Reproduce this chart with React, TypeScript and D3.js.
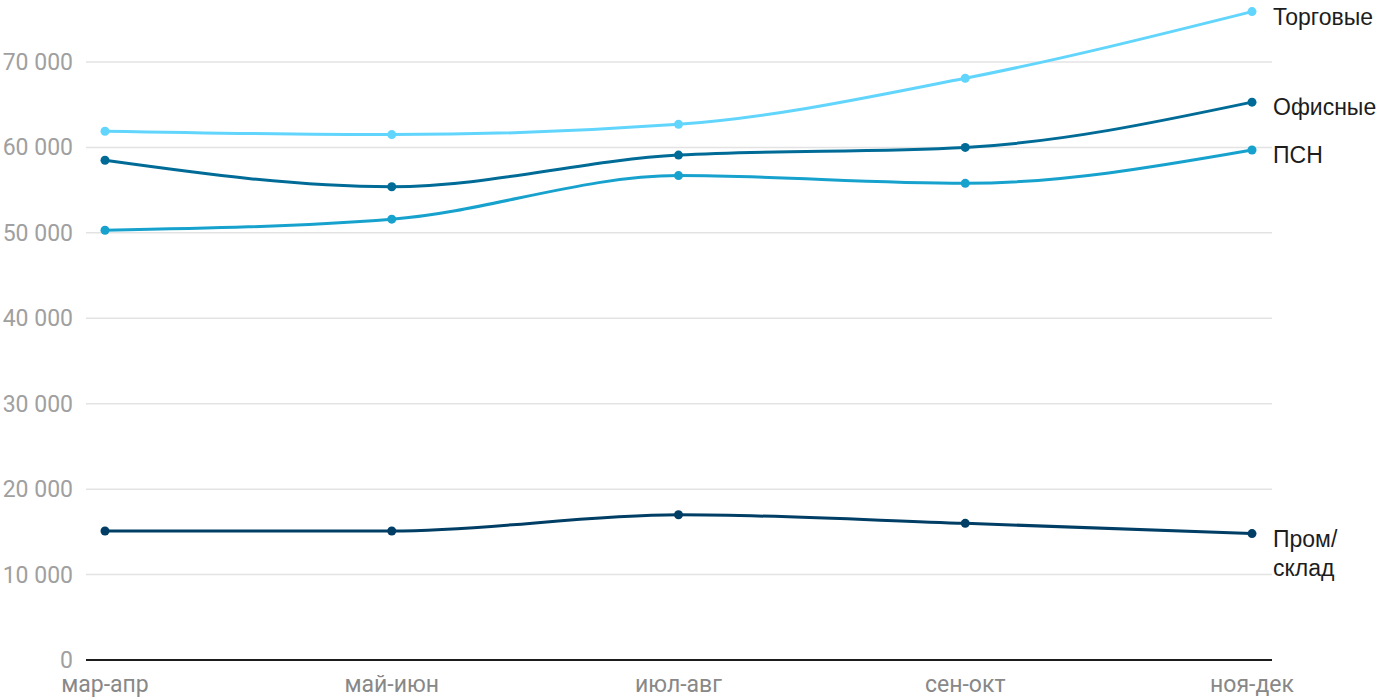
import React from "react";
import * as d3 from "d3";

const categories = ["мар-апр", "май-июн", "июл-авг", "сен-окт", "ноя-дек"];
const torgovye = [61900, 61500, 62700, 68100, 75900];
const ofisnye = [58500, 55400, 59100, 60000, 65300];
const psn = [50300, 51600, 56700, 55800, 59700];
const promSklad = [15100, 15100, 17000, 16000, 14800];
const yTicks = [0, 10000, 20000, 30000, 40000, 50000, 60000, 70000];

const series = [
  { name: ["Торговые"], values: torgovye, color: "#62d5fd" },
  { name: ["Офисные"], values: ofisnye, color: "#006b96" },
  { name: ["ПСН"], values: psn, color: "#17a2ce" },
  { name: ["Пром/", "склад"], values: promSklad, color: "#003e65" },
];

const W = 1400;
const H = 700;
const left = 86;
const right = 1272;

export default function App() {
  const x = d3.scalePoint<string>().domain(categories).range([105, 1252]);
  const y = d3.scaleLinear().domain([0, 70000]).range([660, 62]);
  const line = d3
    .line<number>()
    .x((_, i) => x(categories[i]) as number)
    .y((d) => y(d))
    .curve(d3.curveMonotoneX);
  const fmt = (v: number) => d3.format(",")(v).replace(/,/g, " ");
  return (
    <svg
      width={W}
      height={H}
      style={{ position: "absolute", left: 0, top: 0, fontFamily: "Roboto, sans-serif" }}
    >
      {yTicks.map((t) => (
        <g key={t}>
          {t > 0 && (
            <line x1={left} x2={right} y1={y(t)} y2={y(t)} stroke="#e3e3e3" strokeWidth={1.5} />
          )}
          <text x={73} y={y(t)} dy="0.35em" textAnchor="end" fontSize={23} fill="#a0a0a0">
            {t === 0 ? "0" : fmt(t)}
          </text>
        </g>
      ))}
      <line x1={left} x2={right} y1={y(0)} y2={y(0)} stroke="#1d1d1d" strokeWidth={2} />
      {categories.map((c) => (
        <text key={c} x={x(c)} y={692} textAnchor="middle" fontSize={23} fill="#888888">
          {c}
        </text>
      ))}
      {series.map((s) => (
        <g key={s.name.join("")}>
          <path d={line(s.values) || ""} fill="none" stroke={s.color} strokeWidth={3} />
          {s.values.map((v, i) => (
            <circle key={i} cx={x(categories[i])} cy={y(v)} r={4.5} fill={s.color} />
          ))}
          <text
            x={1273}
            y={y(s.values[s.values.length - 1])}
            fontSize={23}
            fill="#1d1d1d"
            fontFamily="'Liberation Sans', Arial, sans-serif"
          >
            {s.name.map((n, i) => (
              <tspan key={i} x={1273} dy={i === 0 ? "0.57em" : "1.26em"}>
                {n}
              </tspan>
            ))}
          </text>
        </g>
      ))}
    </svg>
  );
}
